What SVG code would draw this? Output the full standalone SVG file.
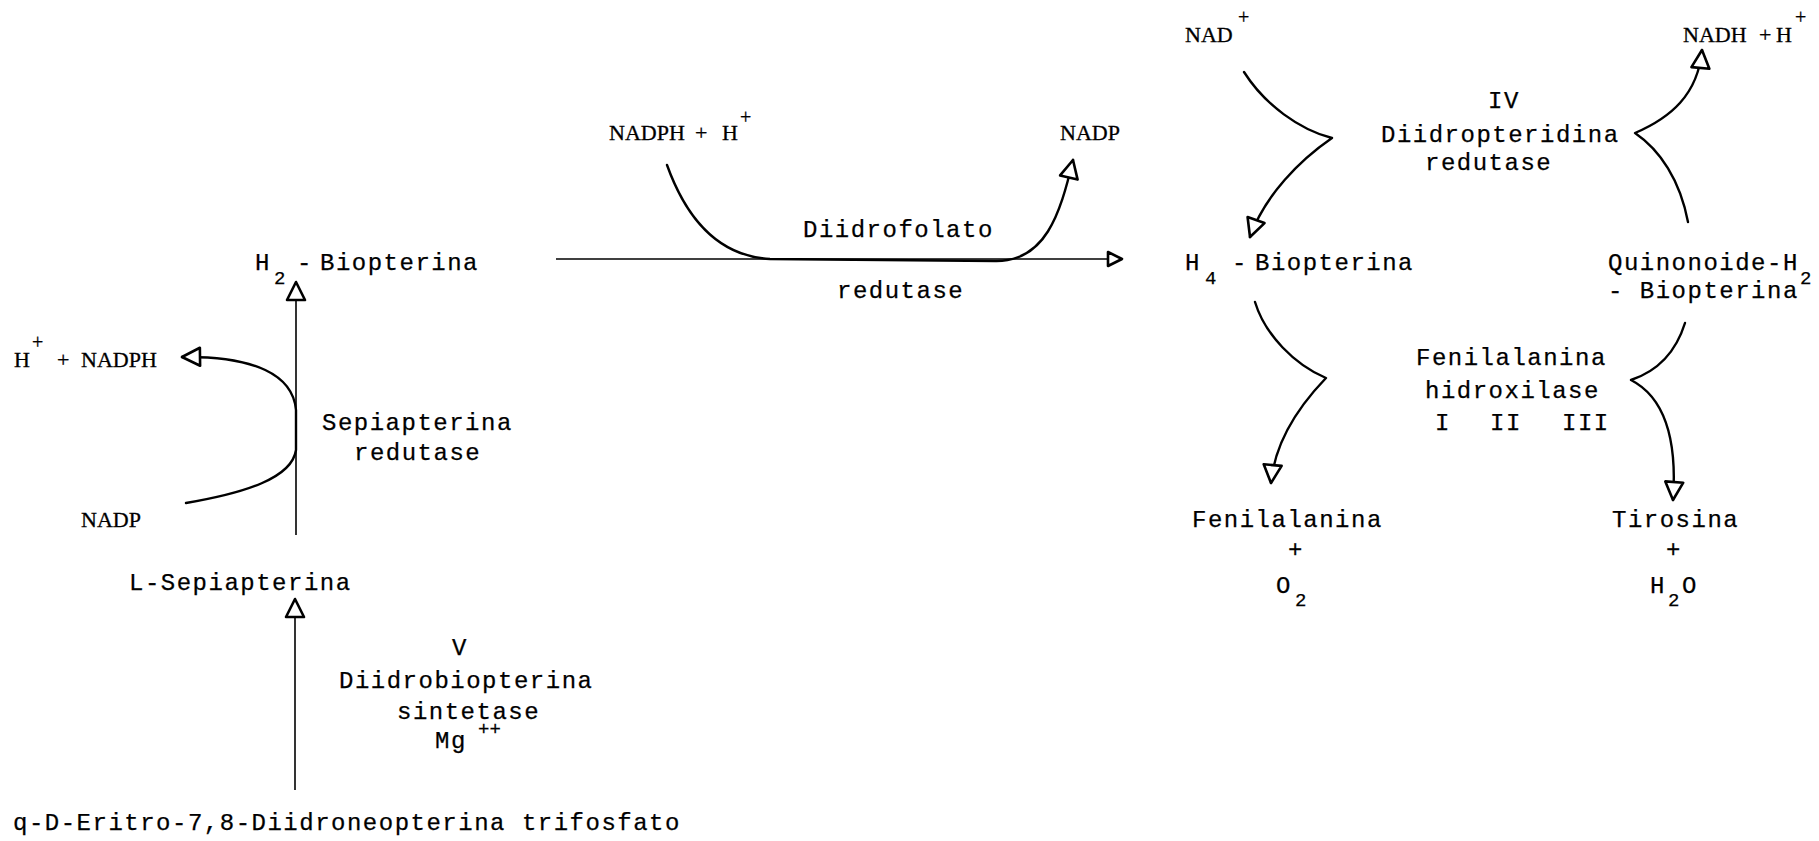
<svg xmlns="http://www.w3.org/2000/svg" width="1819" height="841" viewBox="0 0 1819 841">
<style>
.m{font-family:"Liberation Mono","DejaVu Sans Mono",monospace;font-size:24px;letter-spacing:1.5px;fill:#000;stroke:#000;stroke-width:0.25}
.ms{font-family:"Liberation Mono","DejaVu Sans Mono",monospace;font-size:19px;fill:#000;stroke:#000;stroke-width:0.25}
.s{font-family:"Liberation Serif","Times New Roman",serif;font-size:22px;fill:#000;stroke:#000;stroke-width:0.3}
.ss{font-family:"Liberation Serif","Times New Roman",serif;font-size:20px;fill:#000;stroke:#000;stroke-width:0.3}
.ln{fill:none;stroke:#000;stroke-width:1.6}
.cv{fill:none;stroke:#000;stroke-width:2.4;stroke-linecap:round;stroke-linejoin:round}
</style>
<defs>
<marker id="ah" markerUnits="userSpaceOnUse" markerWidth="40" markerHeight="40" refX="18" refY="0" orient="auto" overflow="visible">
<path d="M0,-9 L18,0 L0,9 Z" fill="#fff" stroke="#000" stroke-width="2.6" stroke-linejoin="round"/>
</marker>
<marker id="ahs" markerUnits="userSpaceOnUse" markerWidth="40" markerHeight="40" refX="14" refY="0" orient="auto" overflow="visible">
<path d="M0,-7 L14,0 L0,7 Z" fill="#fff" stroke="#000" stroke-width="2.6" stroke-linejoin="round"/>
</marker>
</defs>
<rect width="1819" height="841" fill="#fff"/>

<g id="connectors">
<path class="ln" d="M296,535 L296,282" marker-end="url(#ah)"/>
<path class="ln" d="M295,790 L295,599" marker-end="url(#ah)"/>
<path class="cv" d="M186,503 C245,493 292,478 296,450 L296,410 C293,375 255,356 182,357" marker-end="url(#ah)"/>
<path class="ln" d="M556,259 L1122,259" marker-end="url(#ahs)"/>
<path class="cv" d="M667,165 C685,215 715,256 770,259 L995,261 C1045,262 1060,215 1073,160" marker-end="url(#ah)"/>
<path class="cv" d="M1244,72 C1265,105 1300,130 1332,138 C1300,160 1265,195 1250,237" marker-end="url(#ah)"/>
<path class="cv" d="M1688,222 C1680,180 1660,150 1635,133 C1670,118 1698,95 1702,50" marker-end="url(#ah)"/>
<path class="cv" d="M1255,302 C1265,335 1295,365 1326,378 C1300,405 1275,440 1271,483" marker-end="url(#ah)"/>
<path class="cv" d="M1685,323 C1675,355 1655,372 1631,380 C1660,395 1678,430 1673,500" marker-end="url(#ah)"/>
</g>

<g id="h2-biopterina">
<text class="m" x="255" y="270">H</text><text class="ms" x="274" y="284">2</text><text class="m" x="297" y="270">-</text><text class="m" x="320" y="270">Biopterina</text>
</g>
<g id="h-nadph-left">
<text class="s" x="14" y="367">H</text><text class="ss" x="32" y="349">+</text><text class="s" x="57" y="367">+</text><text class="s" x="81" y="367">NADPH</text>
</g>
<g id="nadp-left"><text class="s" x="81" y="527">NADP</text></g>
<g id="sepiapterina-redutase">
<text class="m" x="322" y="430">Sepiapterina</text>
<text class="m" x="354" y="460">redutase</text>
</g>
<g id="l-sepiapterina"><text class="m" x="129" y="590">L-Sepiapterina</text></g>
<g id="diidrobiopterina-sintetase">
<text class="m" x="452" y="655">V</text>
<text class="m" x="339" y="688">Diidrobiopterina</text>
<text class="m" x="397" y="719">sintetase</text>
<text class="m" x="435" y="748">Mg</text><text class="ms" x="478" y="735">++</text>
</g>
<g id="neopterina"><text class="m" x="13" y="830">q-D-Eritro-7,8-Diidroneopterina trifosfato</text></g>

<g id="nadph-h"><text class="s" x="609" y="140">NADPH</text><text class="s" x="695" y="140">+</text><text class="s" x="722" y="140">H</text><text class="ss" x="740" y="124">+</text></g>
<g id="nadp-top"><text class="s" x="1060" y="140">NADP</text></g>
<g id="diidrofolato-redutase">
<text class="m" x="803" y="237">Diidrofolato</text>
<text class="m" x="837" y="298">redutase</text>
</g>

<g id="nad-plus"><text class="s" x="1185" y="42">NAD</text><text class="ss" x="1238" y="24">+</text></g>
<g id="nadh-h"><text class="s" x="1683" y="42">NADH</text><text class="s" x="1759" y="42">+</text><text class="s" x="1776" y="42">H</text><text class="ss" x="1795" y="24">+</text></g>
<g id="diidropteridina-redutase">
<text class="m" x="1488" y="108">IV</text>
<text class="m" x="1381" y="142">Diidropteridina</text>
<text class="m" x="1425" y="170">redutase</text>
</g>
<g id="h4-biopterina">
<text class="m" x="1185" y="270">H</text><text class="ms" x="1205" y="284">4</text><text class="m" x="1232" y="270">-</text><text class="m" x="1255" y="270">Biopterina</text>
</g>
<g id="quinonoide">
<text class="m" x="1608" y="270">Quinonoide-H</text><text class="ms" x="1800" y="284">2</text>
<text class="m" x="1608" y="298">- Biopterina</text>
</g>
<g id="fenilalanina-hidroxilase">
<text class="m" x="1416" y="365">Fenilalanina</text>
<text class="m" x="1425" y="398">hidroxilase</text>
<text class="m" x="1435" y="430">I</text><text class="m" x="1490" y="430">II</text><text class="m" x="1562" y="430">III</text>
</g>
<g id="fenilalanina-o2">
<text class="m" x="1192" y="527">Fenilalanina</text>
<text class="m" x="1288" y="557">+</text>
<text class="m" x="1276" y="593">O</text><text class="ms" x="1295" y="606">2</text>
</g>
<g id="tirosina-h2o">
<text class="m" x="1612" y="527">Tirosina</text>
<text class="m" x="1666" y="557">+</text>
<text class="m" x="1650" y="593">H</text><text class="ms" x="1668" y="606">2</text><text class="m" x="1682" y="593">O</text>
</g>
</svg>
